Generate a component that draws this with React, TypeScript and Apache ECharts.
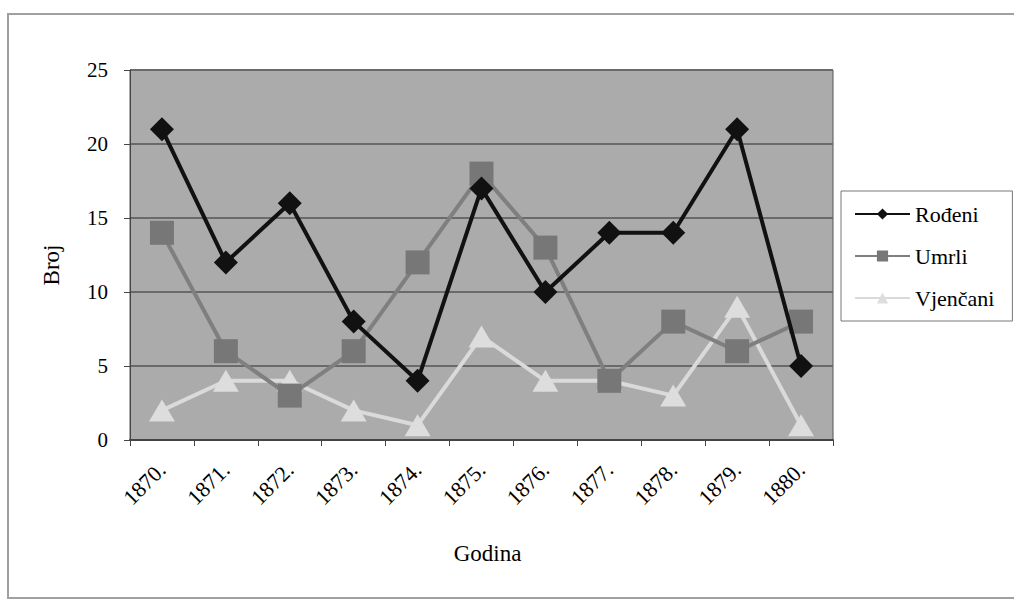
import React, { useEffect, useRef } from "react";
import * as echarts from "echarts";

const categories = ["1870.", "1871.", "1872.", "1873.", "1874.", "1875.", "1876.", "1877.", "1878.", "1879.", "1880."];
const rodeni = [21, 12, 16, 8, 4, 17, 10, 14, 14, 21, 5];
const umrli = [14, 6, 3, 6, 12, 18, 13, 4, 8, 6, 8];
const vjencani = [2, 4, 4, 2, 1, 7, 4, 4, 3, 9, 1];
const seriesNames = ["Rođeni", "Umrli", "Vjenčani"];

const FONT = "Liberation Serif";

export default function App() {
  const ref = useRef<HTMLDivElement>(null);
  useEffect(() => {
    if (!ref.current) return;
    const chart = echarts.init(ref.current, undefined, { renderer: "svg" });
    chart.setOption({
      animation: false,
      backgroundColor: "#ffffff",
      textStyle: { fontFamily: FONT, color: "#000" },
      graphic: [
        {
          type: "polyline",
          shape: { points: [[1014, 14], [8, 14], [8, 598], [1014, 598]] },
          style: { fill: "none", stroke: "#a0a0a0", lineWidth: 2 },
          silent: true,
        },
      ],
      grid: { left: 130, right: 181, top: 70, bottom: 164, show: true, backgroundColor: "#ababab", borderColor: "#555", borderWidth: 1 },
      legend: {
        orient: "vertical",
        left: 841,
        top: 191,
        padding: [12, 18, 12, 13],
        itemWidth: 55,
        itemHeight: 14,
        itemGap: 20,
        borderColor: "#777",
        borderWidth: 1,
        backgroundColor: "#fff",
        textStyle: { fontFamily: FONT, fontSize: 22, color: "#000" },
        data: seriesNames,
      },
      xAxis: {
        type: "category",
        data: categories,
        boundaryGap: true,
        name: "Godina",
        nameLocation: "middle",
        nameGap: 102,
        nameTextStyle: { fontFamily: FONT, fontSize: 23, color: "#000", padding: [0, 0, 0, 12] },
        axisLine: { lineStyle: { color: "#444", width: 2 } },
        axisTick: { show: true, alignWithLabel: false, length: 6, lineStyle: { color: "#444" } },
        axisLabel: { rotate: 45, fontFamily: FONT, fontSize: 22, color: "#000", margin: 26 },
        splitLine: { show: false },
      },
      yAxis: {
        type: "value",
        min: 0,
        max: 25,
        interval: 5,
        name: "Broj",
        nameLocation: "middle",
        nameGap: 67,
        nameRotate: 90,
        nameTextStyle: { fontFamily: FONT, fontSize: 23, color: "#000", padding: [0, 20, 0, 0] },
        axisLine: { show: true, lineStyle: { color: "#444", width: 1 } },
        axisTick: { show: true, length: 6, lineStyle: { color: "#444" } },
        axisLabel: { fontFamily: FONT, fontSize: 21, color: "#000", margin: 22 },
        splitLine: { show: true, lineStyle: { color: "#6a6a6a", width: 2 } },
      },
      series: [
        {
          name: seriesNames[0],
          type: "line",
          data: rodeni,
          symbol: "diamond",
          symbolSize: 24,
          lineStyle: { color: "#111", width: 4 },
          itemStyle: { color: "#111" },
          z: 4,
        },
        {
          name: seriesNames[1],
          type: "line",
          data: umrli,
          symbol: "rect",
          symbolSize: 24,
          lineStyle: { color: "#7f7f7f", width: 4 },
          itemStyle: { color: "#777777" },
          z: 3,
        },
        {
          name: seriesNames[2],
          type: "line",
          data: vjencani,
          symbol: "triangle",
          symbolSize: [26, 22],
          lineStyle: { color: "#dadada", width: 4 },
          itemStyle: { color: "#dddddd" },
          z: 2,
        },
      ],
    });
    return () => chart.dispose();
  }, []);
  return <div ref={ref} style={{ position: "fixed", left: 0, top: 0, width: 1014, height: 604 }} />;
}
